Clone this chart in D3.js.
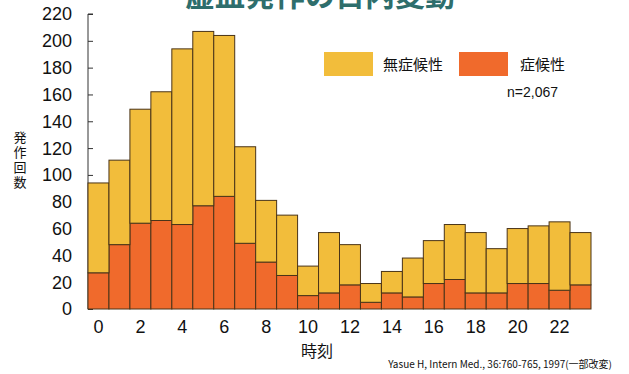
<html>
<head>
    <style>
        body {
            margin: 0;
            background: white;
            font-family: "Liberation Sans", Arial, sans-serif;
        }
        .jp {
            font-family: "Noto Sans CJK JP", sans-serif;
        }
    </style>
    <script src="https://cdn.jsdelivr.net/npm/d3@7"></script>
</head>
<body>
    <div class="mainView"></div>
</body>
<script>
    // hours 0..23
    let hours = d3.range(0, 24)
    let symptomatic = [27, 48, 64, 66, 63, 77, 84, 49, 35, 25, 10, 12, 18, 5, 12, 9, 19, 22, 12, 12, 19, 19, 14, 18]
    let asymptomatic = [67, 63, 85, 96, 131, 130, 120, 72, 46, 45, 22, 45, 30, 14, 16, 29, 32, 41, 45, 33, 41, 43, 51, 39]
    let yTicks = d3.range(0, 221, 20)
    let xTicks = d3.range(0, 24, 2)
    let seriesNames = ["症候性", "無症候性"]

    let width = 629, height = 374
    let margin = { top: 14, left: 88, right: 38, bottom: 65 }
    let bodyWidth = width - margin.left - margin.right
    let bodyHeight = height - margin.top - margin.bottom

    let svg = d3.select(".mainView")
        .append("svg")
        .attr("width", width)
        .attr("height", height)

    // title, mostly cut off at the top
    svg.append("text")
        .attr("class", "jp")
        .attr("x", 320)
        .attr("y", 6)
        .attr("text-anchor", "middle")
        .attr("font-size", 30)
        .attr("font-weight", "bold")
        .attr("fill", "#2e6e6c")
        .text("虚血発作の日内変動")

    let container = svg.append("g")
        .attr("transform", "translate(" + [margin.left, margin.top] + ")")

    let xScale = d3.scaleBand()
        .domain(hours)
        .range([0, 503])
        .padding(0)

    let yScale = d3.scaleLinear()
        .domain([0, 220])
        .range([bodyHeight, 0])

    let cScale = d3.scaleOrdinal()
        .domain(seriesNames)
        .range(["#f06a2c", "#f2bd3b"])

    let table = hours.map((h, i) => ({ hour: h, "症候性": symptomatic[i], "無症候性": asymptomatic[i] }))
    let stacked = d3.stack().keys(seriesNames)(table)

    // y axis with inward ticks
    let axisY = d3.axisRight(yScale)
        .tickValues(yTicks)
        .tickSize(5)
        .tickFormat("")
    let gy = container.append("g").call(axisY)
    gy.select(".domain").attr("stroke", "#333").attr("d", "M0," + yScale(0) + "V" + yScale(220) + "h5")
    gy.selectAll(".tick line").attr("stroke", "#333")

    container.append("g")
        .selectAll("text")
        .data(yTicks)
        .enter()
        .append("text")
        .attr("x", -16)
        .attr("y", d => yScale(d))
        .attr("dy", "0.36em")
        .attr("text-anchor", "end")
        .attr("font-size", 18)
        .attr("fill", "#111")
        .text(d => d)

    // bars
    let layers = container.selectAll(".layer")
        .data(stacked)
        .enter()
        .append("g")
        .attr("fill", d => cScale(d.key))

    layers.selectAll("rect")
        .data(d => d)
        .enter()
        .append("rect")
        .attr("x", d => xScale(d.data.hour))
        .attr("y", d => yScale(d[1]))
        .attr("width", xScale.bandwidth())
        .attr("height", d => yScale(d[0]) - yScale(d[1]))
        .attr("stroke", "#4a3418")
        .attr("stroke-width", 1)

    // x labels
    container.append("g")
        .selectAll("text")
        .data(xTicks)
        .enter()
        .append("text")
        .attr("x", d => xScale(d) + xScale.bandwidth() / 2)
        .attr("y", bodyHeight + 24)
        .attr("text-anchor", "middle")
        .attr("font-size", 18)
        .attr("fill", "#111")
        .text(d => d)

    svg.append("text")
        .attr("class", "jp")
        .attr("x", 317)
        .attr("y", 357)
        .attr("text-anchor", "middle")
        .attr("font-size", 16)
        .attr("fill", "#111")
        .text("時刻")

    // vertical y title
    svg.append("g")
        .selectAll("text")
        .data("発作回数".split(""))
        .enter()
        .append("text")
        .attr("class", "jp")
        .attr("x", 20)
        .attr("y", (d, i) => 142 + i * 15)
        .attr("text-anchor", "middle")
        .attr("font-size", 13)
        .attr("fill", "#111")
        .text(d => d)

    // legend
    let legend = svg.append("g")
    let legendItems = [
        { name: "無症候性", x: 324, tx: 383 },
        { name: "症候性", x: 459, tx: 520 }
    ]
    legendItems.forEach(item => {
        legend.append("rect")
            .attr("x", item.x)
            .attr("y", 52)
            .attr("width", 49)
            .attr("height", 24)
            .attr("fill", cScale(item.name))
        legend.append("text")
            .attr("class", "jp")
            .attr("x", item.tx)
            .attr("y", 70)
            .attr("font-size", 15)
            .attr("fill", "#111")
            .text(item.name)
    })
    legend.append("text")
        .attr("x", 507)
        .attr("y", 97)
        .attr("font-size", 14)
        .attr("fill", "#111")
        .text("n=2,067")

    svg.append("text")
        .attr("class", "jp")
        .attr("x", 612)
        .attr("y", 368)
        .attr("text-anchor", "end")
        .attr("font-size", 10)
        .attr("fill", "#111")
        .text("Yasue H, Intern Med., 36:760-765, 1997(一部改変)")
</script>
</html>
